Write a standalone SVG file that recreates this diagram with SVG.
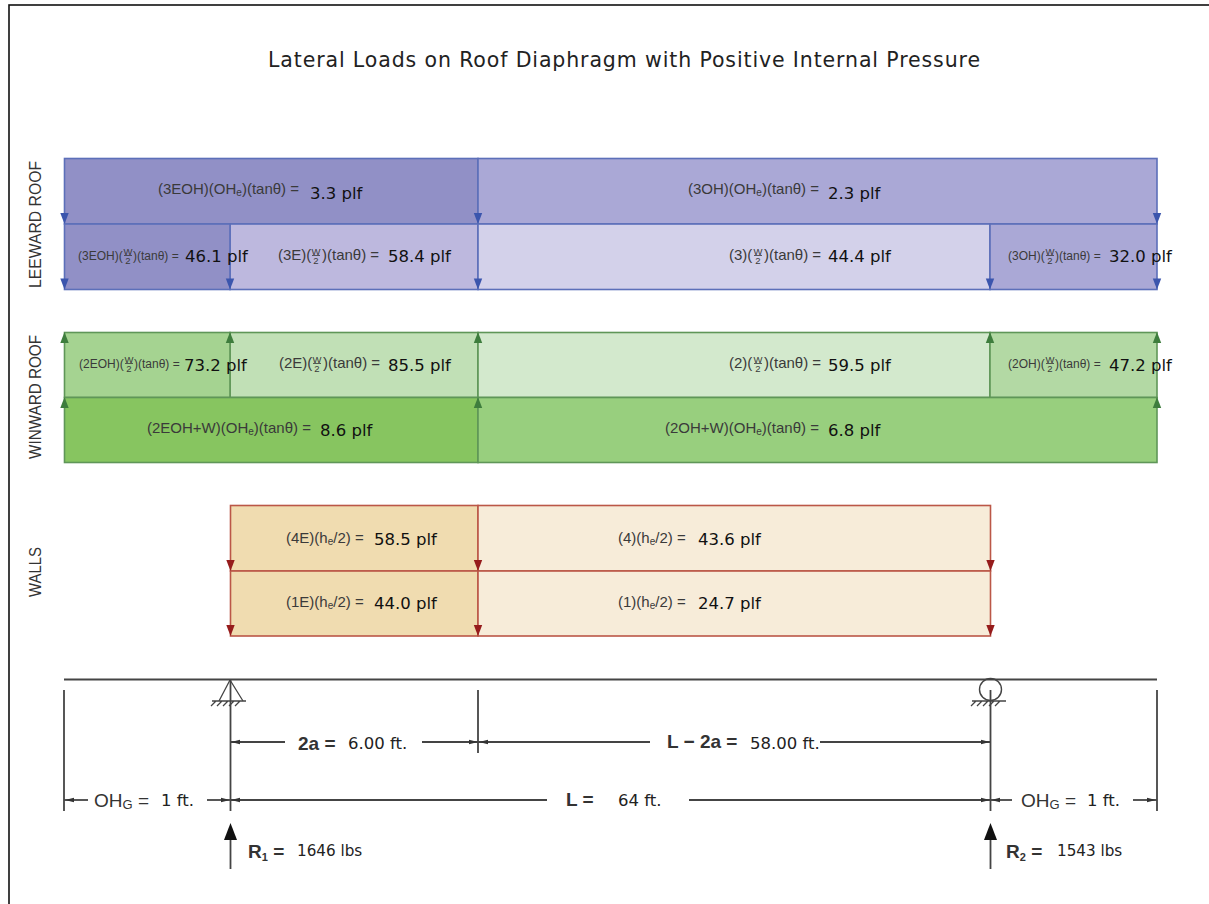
<svg xmlns="http://www.w3.org/2000/svg" xmlns:xlink="http://www.w3.org/1999/xlink" width="1209" height="904" viewBox="0 0 1209 904">
<style>
.f{font-family:"Liberation Sans",Arial,sans-serif;font-size:15px;fill:#3a3a3a}
.s{font-family:"Liberation Sans",Arial,sans-serif;font-size:12px;fill:#3a3a3a}
.t{font-family:"Liberation Sans",Arial,sans-serif;font-size:9.5px;fill:#3a3a3a;text-anchor:middle}
.fb{stroke:#3a3a3a;stroke-width:.8;fill:none}
.v{font-family:"DejaVu Sans",Verdana,sans-serif;font-size:16.5px;fill:#111}
.d{font-family:"DejaVu Sans",Verdana,sans-serif;font-size:16.5px;fill:#222}
.p{font-family:"DejaVu Sans",Verdana,sans-serif;font-size:15.2px;fill:#222}
.h{font-family:"Liberation Sans",Arial,sans-serif;font-size:19px;font-weight:bold;fill:#333}
.r{font-family:"Liberation Sans",Arial,sans-serif;font-size:19px;fill:#333}
.b rect{stroke:#5c6fb9;stroke-width:1.6}
.g rect{stroke:#5f9658;stroke-width:1.6}
.w rect{stroke:#bb5747;stroke-width:1.6}
.l line{stroke:#444;stroke-width:1.8;fill:none}
.l path{stroke:#444;stroke-width:1.3;fill:none}
.af{fill:#111}
</style>
<defs>
<path id="ab" d="M-4.2 -11H4.2L0 0Z" fill="#3b55ad"/>
<path id="ag" d="M-4.2 11H4.2L0 0Z" fill="#3e7d3d"/>
<path id="ar" d="M-4.2 -11H4.2L0 0Z" fill="#961c1c"/>
<path id="al" d="M0 0L9 -2.2V2.2Z" fill="#333"/>
<path id="aR" d="M0 0L-9 -2.2V2.2Z" fill="#333"/>
<g id="hatch" fill="none" stroke="#444" stroke-width="1.3"><path d="M-19 12H15M-20 17L-15 12M-14 17L-9 12M-8 17L-3 12M-2 17L3 12M4 17L9 12"/></g>
</defs>
<rect x="9" y="5" width="1300" height="1000" fill="#fff" stroke="#111" stroke-width="1.6"/>
<text id="title" x="268" y="67" font-family="DejaVu Sans, Verdana, sans-serif" font-size="20.5" fill="#222" textLength="712" lengthAdjust="spacing">Lateral Loads on Roof Diaphragm with Positive Internal Pressure</text>
<text id="label-leeward" transform="translate(41 288) rotate(-90)" font-family="Liberation Sans, Arial, sans-serif" font-size="16" fill="#333" textLength="127" lengthAdjust="spacingAndGlyphs">LEEWARD ROOF</text>
<text id="label-winward" transform="translate(41 459) rotate(-90)" font-family="Liberation Sans, Arial, sans-serif" font-size="16" fill="#333" textLength="124" lengthAdjust="spacingAndGlyphs">WINWARD ROOF</text>
<text id="label-walls" transform="translate(41 597) rotate(-90)" font-family="Liberation Sans, Arial, sans-serif" font-size="16" fill="#333" textLength="50" lengthAdjust="spacingAndGlyphs">WALLS</text>

<g id="leeward" class="b">
<g id="n-3eoh-oh"><rect x="64.5" y="158.5" width="413.5" height="65.5" fill="#9190c6"/><text class="f" x="158" y="194">(3EOH)(OH<tspan font-size="10" dy="2">e</tspan><tspan dy="-2">)(tanθ) =</tspan></text><text class="v" x="310" y="199">3.3 plf</text></g>
<g id="n-3oh-oh"><rect x="478" y="158.5" width="679" height="65.5" fill="#aaa8d6"/><text class="f" x="688" y="194">(3OH)(OH<tspan font-size="10" dy="2">e</tspan><tspan dy="-2">)(tanθ) =</tspan></text><text class="v" x="828" y="199">2.3 plf</text></g>
<g id="n-3e-w"><rect x="230" y="224" width="248" height="65.5" fill="#bdb8de"/><text class="f" x="278" y="260">(3E)(</text><text class="t" x="316" y="254.5">W</text><path class="fb" d="M312 255.5h8"/><text class="t" x="316" y="264">2</text><text class="f" x="322" y="260">)(tanθ) =</text><text class="v" x="388" y="262">58.4 plf</text></g>
<g id="n-3eoh-w"><rect x="64.5" y="224" width="165.5" height="65.5" fill="#9190c6"/><text class="s" x="78" y="260">(3EOH)(</text><text class="t" x="128" y="254.5">W</text><path class="fb" d="M124 255.5h8"/><text class="t" x="128" y="264">2</text><text class="s" x="133" y="260">)(tanθ) =</text><text class="v" x="185" y="262">46.1 plf</text></g>
<g id="n-3-w"><rect x="478" y="224" width="512" height="65.5" fill="#d3d1ea"/><text class="f" x="729" y="260">(3)(</text><text class="t" x="758" y="254.5">W</text><path class="fb" d="M754 255.5h8"/><text class="t" x="758" y="264">2</text><text class="f" x="764" y="260">)(tanθ) =</text><text class="v" x="828" y="262">44.4 plf</text></g>
<g id="n-3oh-w"><rect x="990" y="224" width="167" height="65.5" fill="#aaa8d6"/><text class="s" x="1008" y="260">(3OH)(</text><text class="t" x="1050" y="254.5">W</text><path class="fb" d="M1046 255.5h8"/><text class="t" x="1050" y="264">2</text><text class="s" x="1055" y="260">)(tanθ) =</text><text class="v" x="1109" y="262">32.0 plf</text></g>
</g>

<g id="windward" class="g">
<g id="n-2e-w"><rect x="230" y="332.5" width="248" height="65" fill="#c1e0b6"/><text class="f" x="279" y="368">(2E)(</text><text class="t" x="317" y="362.5">W</text><path class="fb" d="M313 363.5h8"/><text class="t" x="317" y="372">2</text><text class="f" x="323" y="368">)(tanθ) =</text><text class="v" x="388" y="371">85.5 plf</text></g>
<g id="n-2eoh-w"><rect x="64.5" y="332.5" width="165.5" height="65" fill="#a5d391"/><text class="s" x="79" y="368">(2EOH)(</text><text class="t" x="129" y="362.5">W</text><path class="fb" d="M125 363.5h8"/><text class="t" x="129" y="372">2</text><text class="s" x="134" y="368">)(tanθ) =</text><text class="v" x="184" y="371">73.2 plf</text></g>
<g id="n-2-w"><rect x="478" y="332.5" width="512" height="65" fill="#d3e9cd"/><text class="f" x="729" y="368">(2)(</text><text class="t" x="758" y="362.5">W</text><path class="fb" d="M754 363.5h8"/><text class="t" x="758" y="372">2</text><text class="f" x="764" y="368">)(tanθ) =</text><text class="v" x="828" y="371">59.5 plf</text></g>
<g id="n-2oh-w"><rect x="990" y="332.5" width="167" height="65" fill="#b3d9a4"/><text class="s" x="1008" y="368">(2OH)(</text><text class="t" x="1050" y="362.5">W</text><path class="fb" d="M1046 363.5h8"/><text class="t" x="1050" y="372">2</text><text class="s" x="1055" y="368">)(tanθ) =</text><text class="v" x="1109" y="371">47.2 plf</text></g>
<g id="n-2eoh-oh"><rect x="64.5" y="397.5" width="413.5" height="65" fill="#87c560"/><text class="f" x="147" y="433">(2EOH+W)(OH<tspan font-size="10" dy="2">e</tspan><tspan dy="-2">)(tanθ) =</tspan></text><text class="v" x="320" y="436">8.6 plf</text></g>
<g id="n-2oh-oh"><rect x="478" y="397.5" width="679" height="65" fill="#98cf7e"/><text class="f" x="665" y="433">(2OH+W)(OH<tspan font-size="10" dy="2">e</tspan><tspan dy="-2">)(tanθ) =</tspan></text><text class="v" x="828" y="436">6.8 plf</text></g>
</g>

<g id="walls" class="w">
<g id="n-4e"><rect x="230.5" y="505.5" width="247.5" height="65.5" fill="#f0dcb0"/><text class="f" x="286" y="543">(4E)(h<tspan font-size="10" dy="2">e</tspan><tspan dy="-2">/2) =</tspan></text><text class="v" x="374" y="545">58.5 plf</text></g>
<g id="n-4"><rect x="478" y="505.5" width="512.5" height="65.5" fill="#f7ecd9"/><text class="f" x="618" y="543">(4)(h<tspan font-size="10" dy="2">e</tspan><tspan dy="-2">/2) =</tspan></text><text class="v" x="698" y="545">43.6 plf</text></g>
<g id="n-1e"><rect x="230.5" y="571" width="247.5" height="65" fill="#f0dcb0"/><text class="f" x="286" y="607">(1E)(h<tspan font-size="10" dy="2">e</tspan><tspan dy="-2">/2) =</tspan></text><text class="v" x="374" y="609">44.0 plf</text></g>
<g id="n-1"><rect x="478" y="571" width="512.5" height="65" fill="#f7ecd9"/><text class="f" x="618" y="607">(1)(h<tspan font-size="10" dy="2">e</tspan><tspan dy="-2">/2) =</tspan></text><text class="v" x="698" y="609">24.7 plf</text></g>
</g>

<g id="beam-labels">
<text class="h" x="298" y="750">2a =</text><text class="d" x="348" y="749">6.00 ft.</text>
<text class="h" x="667" y="748">L − 2a =</text><text class="d" x="750" y="749">58.00 ft.</text>
<text class="r" x="94" y="807">OH<tspan font-size="13" dy="2">G</tspan><tspan dy="-2"> =</tspan></text><text class="d" x="161" y="806">1 ft.</text>
<text class="h" x="566" y="806">L =</text><text class="d" x="618" y="806">64 ft.</text>
<text class="r" x="1021" y="807">OH<tspan font-size="13" dy="2">G</tspan><tspan dy="-2"> =</tspan></text><text class="d" x="1087" y="806">1 ft.</text>
<text class="h" x="248" y="858">R<tspan font-size="11" dy="3">1</tspan><tspan dy="-3"> =</tspan></text><text class="p" x="297" y="856">1646 lbs</text>
<text class="h" x="1006" y="858">R<tspan font-size="11" dy="3">2</tspan><tspan dy="-3"> =</tspan></text><text class="p" x="1057" y="856">1543 lbs</text>
</g>

<g id="connectors">
<g id="load-arrows">
<use xlink:href="#ab" href="#ab" x="64.5" y="224"/><use xlink:href="#ab" href="#ab" x="478" y="224"/><use xlink:href="#ab" href="#ab" x="1157" y="224"/>
<use xlink:href="#ab" href="#ab" x="64.5" y="289.5"/><use xlink:href="#ab" href="#ab" x="230" y="289.5"/><use xlink:href="#ab" href="#ab" x="478" y="289.5"/><use xlink:href="#ab" href="#ab" x="990" y="289.5"/><use xlink:href="#ab" href="#ab" x="1157" y="289.5"/>
<use xlink:href="#ag" href="#ag" x="64.5" y="332"/><use xlink:href="#ag" href="#ag" x="230" y="332"/><use xlink:href="#ag" href="#ag" x="478" y="332"/><use xlink:href="#ag" href="#ag" x="990" y="332"/><use xlink:href="#ag" href="#ag" x="1157" y="332"/>
<use xlink:href="#ag" href="#ag" x="64.5" y="397"/><use xlink:href="#ag" href="#ag" x="478" y="397"/><use xlink:href="#ag" href="#ag" x="1157" y="397"/>
<use xlink:href="#ar" href="#ar" x="230.5" y="571"/><use xlink:href="#ar" href="#ar" x="478" y="571"/><use xlink:href="#ar" href="#ar" x="990.5" y="571"/>
<use xlink:href="#ar" href="#ar" x="230.5" y="636"/><use xlink:href="#ar" href="#ar" x="478" y="636"/><use xlink:href="#ar" href="#ar" x="990.5" y="636"/>
</g>
<g id="beam" class="l">
<line x1="64" y1="679.5" x2="1157" y2="679.5" style="stroke-width:2.2"/>
<line x1="64" y1="690" x2="64" y2="811"/><line x1="230.5" y1="680" x2="230.5" y2="811"/><line x1="478" y1="690" x2="478" y2="753"/><line x1="990.5" y1="690" x2="990.5" y2="811"/><line x1="1157" y1="690" x2="1157" y2="811"/>
<path d="M230 680L219 701M230 680L243 701"/>
<use xlink:href="#hatch" href="#hatch" x="231" y="689"/>
<circle cx="990.5" cy="689.5" r="11" fill="none" stroke="#444" stroke-width="1.4"/>
<use xlink:href="#hatch" href="#hatch" x="991" y="689"/>
<line x1="231" y1="742" x2="285" y2="742"/><line x1="422" y1="742" x2="478" y2="742"/><line x1="478" y1="742" x2="650" y2="742"/><line x1="820" y1="742" x2="990" y2="742"/>
<line x1="64" y1="800" x2="88" y2="800"/><line x1="207" y1="800" x2="230" y2="800"/><line x1="231" y1="800" x2="547" y2="800"/><line x1="689" y1="800" x2="990" y2="800"/><line x1="991" y1="800" x2="1012" y2="800"/><line x1="1133" y1="800" x2="1157" y2="800"/>
<line x1="230.5" y1="835" x2="230.5" y2="869"/><line x1="990.5" y1="835" x2="990.5" y2="869"/>
</g>
<g id="dim-arrows">
<use xlink:href="#al" href="#al" x="231" y="742"/><use xlink:href="#aR" href="#aR" x="478" y="742"/><use xlink:href="#al" href="#al" x="479" y="742"/><use xlink:href="#aR" href="#aR" x="990" y="742"/>
<use xlink:href="#al" href="#al" x="65" y="800"/><use xlink:href="#aR" href="#aR" x="230" y="800"/><use xlink:href="#al" href="#al" x="231" y="800"/><use xlink:href="#aR" href="#aR" x="990" y="800"/><use xlink:href="#al" href="#al" x="991" y="800"/><use xlink:href="#aR" href="#aR" x="1156" y="800"/>
<path class="af" d="M230.5 823L237 840H224Z"/><path class="af" d="M990.5 823L997 840H984Z"/>
</g>
</g>
</svg>
